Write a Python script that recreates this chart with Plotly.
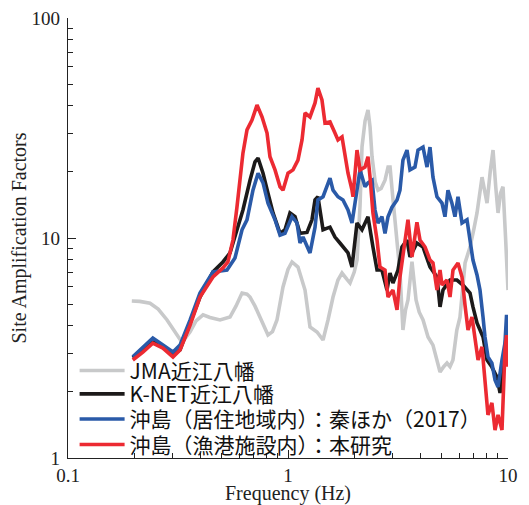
import plotly.graph_objects as go

# JMA 近江八幡 (gray)
jma_f = [0.195, 0.212, 0.236, 0.257, 0.282, 0.306, 0.330, 0.359, 0.382, 0.411, 0.442, 0.491, 0.545,
         0.58, 0.618, 0.651, 0.672, 0.708, 0.746, 0.78, 0.811, 0.85, 0.891, 0.949, 1.0, 1.043, 1.11,
         1.195, 1.259, 1.355, 1.443, 1.52, 1.602, 1.687, 1.76, 1.85, 1.914, 2.0, 2.06, 2.125, 2.17,
         2.24, 2.31, 2.36, 2.41, 2.49, 2.565, 2.65, 2.76, 2.85, 2.91, 3.0, 3.07, 3.15, 3.23, 3.33,
         3.42, 3.51, 3.66, 3.82, 3.95, 4.11, 4.33, 4.56, 4.75, 4.91, 5.1, 5.28, 5.45, 5.62, 5.85,
         6.05, 6.38, 6.72, 7.0, 7.23, 7.62, 8.03, 8.3, 8.55, 8.8, 9.01, 9.25, 9.49, 9.75, 10.0]
jma_a = [5.17, 5.15, 5.05, 4.75, 4.24, 3.75, 3.35, 3.75, 4.2, 4.47, 4.35, 4.24, 4.37,
         4.9, 5.62, 5.55, 5.39, 4.9, 4.37, 3.9, 3.62, 3.75, 4.24, 5.99, 7.2, 7.78, 7.38,
         5.8, 3.94, 3.74, 3.44, 4.24, 5.39, 6.44, 6.93, 6.5, 6.24, 7.0, 7.94, 14.0, 26.0,
         34.0, 38.2, 32.0, 23.4, 18.0, 16.5, 16.8, 18.3, 21.0, 21.0, 15.0, 11.7, 8.5, 6.93, 3.82,
         4.7, 5.23, 7.8, 5.23, 4.6, 4.24, 3.55, 3.26, 2.8, 2.46, 2.6, 2.70, 2.6, 2.79, 3.8,
         4.37, 7.70, 9.10, 11.0, 13.0, 18.9, 14.4, 20.0, 25.1, 17.0, 13.0, 16.0, 17.1, 10.0, 5.8]

# K-NET 近江八幡 (black)
knet_f = [0.197, 0.219, 0.243, 0.270, 0.300, 0.323, 0.359, 0.398, 0.456, 0.506, 0.545, 0.574, 0.624,
          0.672, 0.708, 0.731, 0.770, 0.811, 0.855, 0.920, 0.969, 1.021, 1.076, 1.134, 1.220, 1.285,
          1.327, 1.368, 1.443, 1.552, 1.635, 1.722, 1.778, 1.874, 1.954, 2.059, 2.169, 2.31, 2.433,
          2.539, 2.673, 2.818, 2.908, 3.0, 3.162, 3.296, 3.475, 3.585, 3.855, 4.108, 4.42, 4.755,
          4.909, 5.065, 5.45, 5.86, 6.24, 6.72, 6.93, 7.23, 7.70, 8.03, 8.45, 8.91, 9.20, 9.49, 9.8, 10.0]
knet_a = [2.85, 3.10, 3.44, 3.20, 2.94, 3.10, 4.11, 5.39, 7.01, 7.78, 8.55, 10.1, 13.4,
          18.3, 22.2, 23.1, 19.7, 16.0, 13.0, 10.5, 10.9, 13.0, 12.5, 10.5, 10.6, 12.1,
          14.9, 15.4, 10.9, 11.2, 10.1, 9.49, 9.10, 8.55, 7.38, 11.7, 10.9, 12.5, 9.10,
          7.15, 7.15, 5.80, 6.93, 6.24, 7.15, 9.10, 9.79, 8.20, 9.49, 9.10, 7.38, 6.65,
          4.86, 5.80, 6.44, 6.44, 6.11, 5.62, 4.86, 4.11, 3.55, 2.79, 2.59, 2.33, 1.975, 2.70, 3.55, 3.4]

# 沖島(居住地域内):秦ほか(2017) (blue)
hata_f = [0.197, 0.219, 0.243, 0.270, 0.300, 0.323, 0.359, 0.398, 0.456, 0.528, 0.574, 0.618, 0.651,
          0.693, 0.731, 0.770, 0.811, 0.873, 0.920, 0.969, 1.043, 1.099, 1.134, 1.170, 1.259, 1.327,
          1.368, 1.443, 1.552, 1.602, 1.687, 1.778, 1.874, 1.954, 2.059, 2.125, 2.239, 2.31, 2.41,
          2.486, 2.565, 2.673, 2.76, 2.848, 2.97, 3.13, 3.228, 3.33, 3.475, 3.585, 3.776, 3.90, 4.108,
          4.285, 4.42, 4.56, 4.755, 5.012, 5.17, 5.335, 5.56, 5.74, 5.925, 6.18, 6.51, 6.72, 6.93,
          7.23, 7.46, 7.70, 7.86, 8.11, 8.45, 8.73, 9.01, 9.39, 9.69, 9.85, 10.0]
hata_a = [2.88, 3.20, 3.51, 3.26, 3.03, 3.26, 4.24, 5.62, 7.01, 7.15, 8.11, 10.9, 12.1,
          16.5, 19.7, 17.8, 14.4, 12.1, 10.3, 10.5, 12.5, 11.7, 9.49, 10.1, 8.55, 11.2,
          14.9, 15.4, 18.7, 16.5, 15.4, 14.9, 13.4, 11.7, 16.5, 20.4, 17.1, 17.8, 18.3,
          13.4, 11.7, 12.5, 10.5, 12.5, 13.8, 14.9, 16.5, 22.6, 25.1, 20.4, 21.0, 25.1, 25.9,
          21.0, 25.9, 18.9, 15.4, 14.4, 12.5, 16.5, 14.4, 12.5, 15.4, 11.7, 12.1, 9.79, 7.94,
          6.79, 5.80, 4.37, 3.55, 2.88, 2.70, 2.26, 2.10, 2.79, 3.33, 4.47, 3.44]

# 沖島(漁港施設内):本研究 (red)
this_f = [0.197, 0.219, 0.243, 0.270, 0.300, 0.323, 0.359, 0.398, 0.456, 0.506, 0.533, 0.562, 0.586,
          0.624, 0.651, 0.686, 0.723, 0.762, 0.803, 0.828, 0.873, 0.920, 0.949, 1.0, 1.054, 1.11,
          1.158, 1.195, 1.259, 1.327, 1.368, 1.427, 1.473, 1.552, 1.635, 1.687, 1.76, 1.816, 1.874,
          1.954, 1.975, 2.059, 2.125, 2.239, 2.31, 2.36, 2.433, 2.539, 2.618, 2.76, 2.848, 3.0, 3.13,
          3.228, 3.40, 3.51, 3.66, 3.855, 3.981, 4.198, 4.42, 4.56, 4.755, 4.909, 5.012, 5.28, 5.45,
          5.623, 5.925, 6.18, 6.375, 6.58, 6.86, 7.08, 7.31, 7.62, 7.86, 8.11, 8.45, 8.73, 9.01,
          9.39, 9.69, 9.85, 10.0]
this_a = [2.79, 3.03, 3.33, 3.16, 2.88, 3.10, 4.02, 5.39, 6.65, 7.31, 7.78, 9.79, 13.8,
          24.3, 31.0, 34.4, 40.2, 35.5, 30.0, 23.4, 20.4, 17.1, 16.5, 19.7, 20.4, 22.6,
          27.9, 37.0, 35.5, 41.1, 48.0, 42.4, 33.3, 33.7, 30.0, 27.9, 28.8, 23.4, 19.7,
          16.5, 15.4, 25.1, 20.4, 21.0, 23.4, 18.9, 13.0, 9.79, 7.38, 7.15, 5.39, 5.80, 4.71,
          6.65, 9.79, 12.1, 8.20, 11.8, 9.79, 9.10, 7.94, 7.70, 5.80, 7.15, 6.11, 6.44, 5.39,
          7.15, 7.70, 6.65, 4.96, 3.82, 4.37, 3.55, 2.79, 3.20, 2.26, 1.57, 1.78, 1.34, 1.57,
          1.34, 3.10, 3.62, 2.6]

names = ["JMA近江八幡", "K-NET近江八幡", "沖島（居住地域内）：秦ほか（2017）", "沖島（漁港施設内）：本研究"]
colors = ["#c8c9ca", "#1c1a1a", "#2a5aa8", "#ec2a32"]
series = [(jma_f, jma_a), (knet_f, knet_a), (hata_f, hata_a), (this_f, this_a)]
legend_ids = ["legend", "legend2", "legend3", "legend4"]
legend_rows = [0.198, 0.145, 0.088, 0.030]

fig = go.Figure()
for (fx, ay), nm, col, lid in zip(series, names, colors, legend_ids):
    fig.add_trace(go.Scatter(x=fx, y=ay, mode="lines", name=nm, legend=lid,
                             line=dict(color=col, width=3.6)))

serif = "Liberation Serif, Times New Roman, serif"
leg_common = dict(x=0.015, xanchor="left", yanchor="middle", bgcolor="rgba(0,0,0,0)",
                  itemwidth=45, borderwidth=0,
                  font=dict(family="Noto Sans CJK JP", size=21, color="#111"))
layout_legends = {lid: dict(y=yy, **leg_common) for lid, yy in zip(legend_ids, legend_rows)}

# page body has an 8px default margin: figure is sized/offset so the plot lands where the reference has it
fig.update_layout(
    width=521, height=497,
    margin=dict(l=60, r=21, t=10, b=47),
    paper_bgcolor="white", plot_bgcolor="white",
    showlegend=True,
    font=dict(family=serif, color="#222"),
    **layout_legends,
)
fig.update_xaxes(type="log", range=[-1, 1], dtick=1, tick0=0, automargin=False,
                 ticklabeloverflow="allow",
                 showline=True, linecolor="#222", linewidth=1.2, mirror=False,
                 ticks="inside", ticklen=8, tickcolor="#222",
                 minor=dict(ticks="inside", ticklen=5, dtick="D1", tickcolor="#222"),
                 showgrid=False, zeroline=False,
                 tickfont=dict(family=serif, size=19, color="#222"),
                 title=dict(text="Frequency (Hz)", font=dict(family=serif, size=20, color="#222"), standoff=1))
fig.update_yaxes(type="log", range=[0, 2], dtick=1, tick0=0, automargin=False,
                 ticklabeloverflow="allow", ticklabelstandoff=3,
                 showline=True, linecolor="#222", linewidth=1.2, mirror=False,
                 ticks="inside", ticklen=8, tickcolor="#222",
                 minor=dict(ticks="inside", ticklen=5, dtick="D1", tickcolor="#222"),
                 showgrid=False, zeroline=False,
                 tickfont=dict(family=serif, size=19, color="#222"),
                 title=dict(text="Site Amplification Factors", font=dict(family=serif, size=20, color="#222"), standoff=4))

fig.write_html("out.html")
